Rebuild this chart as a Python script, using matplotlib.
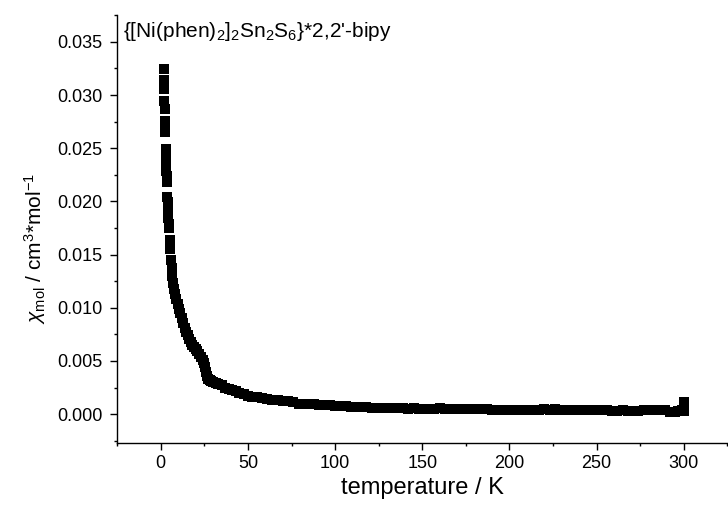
import matplotlib
matplotlib.use("Agg")
import matplotlib.pyplot as plt
from matplotlib.ticker import MultipleLocator

plt.rcParams['font.family'] = ['Liberation Sans', 'DejaVu Sans']
plt.rcParams['mathtext.fontset'] = 'custom'
plt.rcParams['mathtext.rm'] = 'Liberation Sans'
plt.rcParams['mathtext.it'] = 'Liberation Sans:italic'
plt.rcParams['mathtext.bf'] = 'Liberation Sans:bold'

temperature = [
    1.8, 1.9, 2.0, 2.1, 2.2, 2.3, 2.4, 2.5,
    2.7, 2.8, 2.9, 3.0, 3.2, 3.3, 3.5,
    3.7, 3.9, 4.0, 4.2, 4.4, 4.6, 4.8,
    5.0, 5.4, 5.8, 6.2, 6.7, 7.2, 7.8, 8.4, 9.0, 9.7, 10.4, 11.1, 11.9,
    12.7, 13.6, 14.5, 15.4, 16.3, 17.2, 18.1, 19.0, 20.0, 21.0, 22.0,
    23.0, 24.0, 24.8, 25.4, 26.0, 26.6, 27.2, 28.0, 29.0, 30.0, 31.5,
    33, 35, 37, 39, 41, 43, 45, 47.5, 50, 52.5, 55, 58, 61, 64, 67, 70,
    73, 76, 79, 82, 85, 88, 91, 94, 97, 100, 103, 106, 109, 112, 115,
    118, 121, 124, 127, 130, 133, 136, 139, 142, 145, 148, 151, 154,
    157, 160, 163, 166, 169, 172, 175, 178, 181, 184, 187, 190, 193,
    196, 199, 202, 205, 208, 211, 214, 217, 220, 223, 226, 229, 232,
    235, 238, 241, 244, 247, 250, 253, 256, 259, 262, 265, 268, 271,
    274, 277, 280, 283, 286, 289, 292, 295, 297, 299, 300, 300,
]
chi_mol = [
    0.0324, 0.0314, 0.0306, 0.0294, 0.0287, 0.0276, 0.0270, 0.0265,
    0.0249, 0.0244, 0.0239, 0.0234, 0.0229, 0.0224, 0.0218,
    0.0204, 0.0199, 0.0194, 0.0189, 0.0184, 0.0179, 0.0175,
    0.0164, 0.0155, 0.0145, 0.0137, 0.0130, 0.0123, 0.0118, 0.0113,
    0.0108, 0.0104, 0.0099, 0.0095, 0.0090,
    0.0086, 0.0081, 0.0077, 0.0074, 0.0071, 0.0068, 0.0065, 0.0063,
    0.0061, 0.0059, 0.0057,
    0.0054, 0.0051, 0.0048, 0.0044, 0.0040, 0.0036, 0.0033, 0.0032,
    0.0031, 0.0030, 0.0029,
    0.0028, 0.0027, 0.0025, 0.0024, 0.0023, 0.0022, 0.0020, 0.0019,
    0.0017, 0.0016, 0.0016, 0.0015, 0.0014, 0.0013, 0.0013, 0.0012,
    0.0012, 0.0011, 0.0010, 0.0010, 0.00095, 0.00092, 0.00090, 0.00087,
    0.00082, 0.00080, 0.00077, 0.00074, 0.00070, 0.00070, 0.00066,
    0.00065, 0.00062, 0.00062, 0.00058, 0.00058, 0.00055, 0.00056,
    0.00054, 0.00050, 0.00055, 0.00052, 0.00050, 0.00053,
    0.00050, 0.00055, 0.00052, 0.00048, 0.00050, 0.00047, 0.00050,
    0.00052, 0.00048, 0.00053, 0.00045, 0.00042, 0.00040,
    0.00043, 0.00040, 0.00038, 0.00042, 0.00040, 0.00038, 0.00042,
    0.00040, 0.00045, 0.00042, 0.00048, 0.00040, 0.00043,
    0.00040, 0.00038, 0.00042, 0.00038, 0.00040, 0.00036, 0.00038,
    0.00035, 0.00034, 0.00033, 0.00036, 0.00033, 0.00030,
    0.00032, 0.00035, 0.00038, 0.00036, 0.00040, 0.00035, 0.00025,
    0.00022, 0.00030, 0.00040, 0.00030, 0.00118,
]

title_text = r"{[Ni(phen)$_2$]$_2$Sn$_2$S$_6$}*2,2'-bipy"
x_label = "temperature / K"
y_label = r"$\chi_{\mathrm{mol}}$ / cm$^3$*mol$^{-1}$"

fig = plt.figure(figsize=(7.28, 5.17), dpi=100)
ax = fig.add_axes([116.7 / 728, 1 - 442.7 / 517, 1 - 116.7 / 728, (442.7 - 15) / 517])

ax.plot(temperature, chi_mol, linestyle='none', marker='s', markersize=6.7,
        color='black', markeredgewidth=0)

ax.set_xlim(-25.3, 325.4)
ax.set_ylim(-0.00268, 0.03752)

ax.spines['top'].set_visible(False)
ax.spines['right'].set_visible(False)
for s in ('left', 'bottom'):
    ax.spines[s].set_linewidth(1.0)

ax.xaxis.set_minor_locator(MultipleLocator(25))
ax.yaxis.set_minor_locator(MultipleLocator(0.0025))
ax.set_xticks([0, 50, 100, 150, 200, 250, 300])
ax.set_yticks([0.0, 0.005, 0.010, 0.015, 0.020, 0.025, 0.030, 0.035])
ax.set_yticklabels(['0.000', '0.005', '0.010', '0.015', '0.020', '0.025', '0.030', '0.035'])

ax.tick_params(which='major', direction='out', length=5, width=1.0, labelsize=13, pad=4)
ax.tick_params(which='minor', direction='out', length=2.5, width=1.0)
ax.tick_params(axis='y', which='major', pad=5)

fig.text(0.5 * (116.7 + 727.5) / 728, 1 - 488 / 517, x_label, ha='center', va='center', fontsize=17)
fig.text(35 / 728, 1 - 249 / 517, y_label, ha='center', va='center', rotation=90, fontsize=15)
fig.text(123 / 728, 1 - 36.7 / 517, title_text, ha='left', va='baseline', fontsize=15)

fig.savefig("out.png", dpi=100)
